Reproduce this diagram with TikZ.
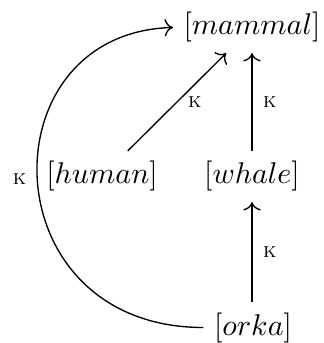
\documentclass[tikz,border=0pt]{standalone}
\usetikzlibrary{cd}
\begin{document}
\begin{tikzpicture}[x=0.33333pt,y=-0.33333pt,
  obj/.style={inner sep=3.333pt},
  arr/.style={-cm to, line width=0.45pt},
  lab/.style={font=\scriptsize, inner sep=3.5pt}]
\useasboundingbox (0,0) rectangle (323,343);
\node[obj] (mammal) at (252,27.5) {$[mammal]$};
\node[obj] (human) at (102,176.5) {$[human]$};
\node[obj] (whale) at (252,176.5) {$[whale]$};
\node[obj] (orka) at (253,327.5) {$[orka]$};
\draw[arr] (human) -- node[lab,right] {\textsc{k}} (mammal);
\draw[arr] (whale.north) -- node[lab,right] {\textsc{k}} (mammal.south -| whale.north);
\draw[arr] (orka.north -| whale) -- node[lab,right] {\textsc{k}} (whale.south);
\draw[arr] (orka.west) .. controls +(-214,0) and +(-188,5) .. node[lab,left,pos=0.5] {\textsc{k}} (mammal.west);
\end{tikzpicture}
\end{document}
